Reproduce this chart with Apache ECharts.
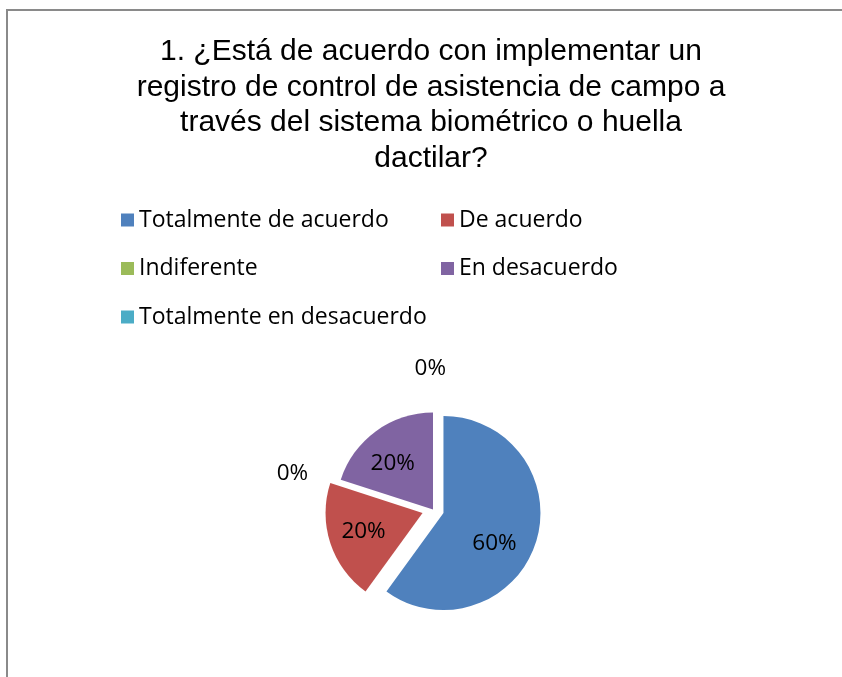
<!DOCTYPE html>
<html>
<head>
<meta charset="utf-8">
<script src="https://cdn.jsdelivr.net/npm/echarts@6/dist/echarts.min.js"></script>
<style>
  html, body { margin: 0; padding: 0; background: #fff; }
  #chart { width: 842px; height: 677px; }
</style>
</head>
<body>
<div id="chart"></div>
<script>
const titleText = '1. ¿Está de acuerdo con implementar un\nregistro de control de asistencia de campo a\ntravés del sistema biométrico o huella\ndactilar?';
const categories = ['Totalmente de acuerdo', 'De acuerdo', 'Indiferente', 'En desacuerdo', 'Totalmente en desacuerdo'];
const values = [60, 20, 0, 20, 0];
const exploded = [true, true, false, false, false];
const colors = ['#4F81BD', '#C0504D', '#9BBB59', '#8064A2', '#4BACC6'];
// label fine shifts (style only)
const labelShift = [[2, 15], [-10, 3], [1, 3], [-10, -4], [18, -14]];

const chart = echarts.init(document.getElementById('chart'));
chart.setOption({
  animation: false,
  backgroundColor: '#fff',
  color: colors,
  graphic: [{
    type: 'rect',
    shape: { x: 7, y: 10, width: 900, height: 900 },
    style: { fill: 'none', stroke: '#8a8a8a', lineWidth: 2 },
    silent: true
  }],
  title: {
    text: titleText,
    left: 431,
    textAlign: 'center',
    top: 34,
    padding: 0,
    textStyle: {
      fontFamily: 'Liberation Sans',
      fontSize: 30,
      fontWeight: 'normal',
      color: '#000',
      lineHeight: 35.5
    }
  },
  legend: [{
    orient: 'vertical',
    left: 121,
    top: 208,
    padding: 0,
    itemWidth: 13,
    itemHeight: 13,
    itemGap: 24.5,
    icon: 'rect',
    selectedMode: false,
    data: [categories[0], categories[2], categories[4]],
    textStyle: { fontFamily: 'Open Sans', fontSize: 23, color: '#000', lineHeight: 24 }
  }, {
    orient: 'vertical',
    left: 441,
    top: 208,
    padding: 0,
    itemWidth: 13,
    itemHeight: 13,
    itemGap: 24.5,
    icon: 'rect',
    selectedMode: false,
    data: [categories[1], categories[3]],
    textStyle: { fontFamily: 'Open Sans', fontSize: 23, color: '#000', lineHeight: 24 }
  }],
  series: [{
    type: 'pie',
    center: [433, 509.6],
    radius: 97,
    startAngle: 90,
    clockwise: true,
    selectedMode: 'multiple',
    selectedOffset: 11,
    avoidLabelOverlap: false,
    emphasis: { disabled: true },
    itemStyle: { borderWidth: 0 },
    label: {
      show: true,
      position: 'inside',
      formatter: p => p.value + '%',
      fontFamily: 'Open Sans',
      fontSize: 22.5,
      color: '#000'
    },
    labelLine: { show: false },
    labelLayout: p => ({ dx: labelShift[p.dataIndex][0], dy: labelShift[p.dataIndex][1] }),
    data: categories.map((name, i) => {
      const item = { name, value: values[i], selected: exploded[i] };
      if (values[i] === 0) {
        item.label = { position: 'outside' };
        item.labelLine = { show: false, length: 30, length2: 0 };
      }
      return item;
    })
  }]
});
</script>
</body>
</html>
